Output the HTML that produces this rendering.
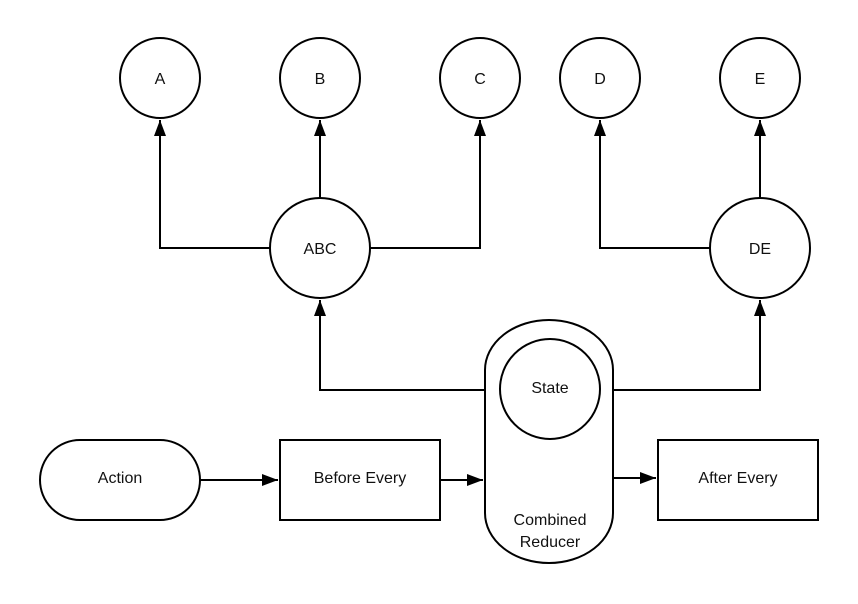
<!DOCTYPE html>
<html><head><style>body{margin:0;background:#fff}svg{display:block}</style></head><body>
<svg width="858" height="604" viewBox="0 0 858 604" xmlns="http://www.w3.org/2000/svg" font-family="Liberation Sans, sans-serif" font-size="16">
<defs><marker id="a" markerWidth="10" markerHeight="10" refX="9" refY="5" orient="auto" markerUnits="userSpaceOnUse"><path d="M0,0 L10,5 L0,10 z" fill="#000" transform="scale(1.6,1) translate(-3.75,0)"/></marker>
<marker id="b" viewBox="0 0 16 12" markerWidth="16" markerHeight="12" refX="16" refY="6" orient="auto" markerUnits="userSpaceOnUse"><path d="M0,0 L16,6 L0,12 z" fill="#000"/></marker></defs>
<g fill="none" stroke="#000" stroke-width="2">
<path d="M270,248 H160 V120" marker-end="url(#b)"/>
<path d="M320,198 V120" marker-end="url(#b)"/>
<path d="M370,248 H480 V120" marker-end="url(#b)"/>
<path d="M710,248 H600 V120" marker-end="url(#b)"/>
<path d="M760,198 V120" marker-end="url(#b)"/>
<path d="M500,390 H320 V300" marker-end="url(#b)"/>
<path d="M600,390 H760 V300" marker-end="url(#b)"/>
<path d="M200,480 H278" marker-end="url(#b)"/>
<path d="M440,480 H483" marker-end="url(#b)"/>
<path d="M613,478 H656" marker-end="url(#b)"/>
</g>
<g fill="#fff" stroke="#000" stroke-width="2">
<circle cx="160" cy="78" r="40"/><circle cx="320" cy="78" r="40"/><circle cx="480" cy="78" r="40"/><circle cx="600" cy="78" r="40"/><circle cx="760" cy="78" r="40"/>
<circle cx="320" cy="248" r="50"/><circle cx="760" cy="248" r="50"/>
<path d="M485,370 A64,50 0 0 1 613,370 V513 A64,50 0 0 1 485,513 Z"/>
<circle cx="550" cy="389" r="50"/>
<rect x="40" y="440" width="160" height="80" rx="40"/>
<rect x="280" y="440" width="160" height="80"/>
<rect x="658" y="440" width="160" height="80"/>
</g>
<g text-anchor="middle" fill="#111">
<text x="160" y="84">A</text><text x="320" y="84">B</text><text x="480" y="84">C</text><text x="600" y="84">D</text><text x="760" y="84">E</text>
<text x="320" y="254">ABC</text><text x="760" y="254">DE</text>
<text x="550" y="393">State</text>
<text x="550" y="525">Combined</text><text x="550" y="547">Reducer</text>
<text x="120" y="483">Action</text><text x="360" y="483">Before Every</text><text x="738" y="483">After Every</text>
</g>
</svg>
</body></html>
